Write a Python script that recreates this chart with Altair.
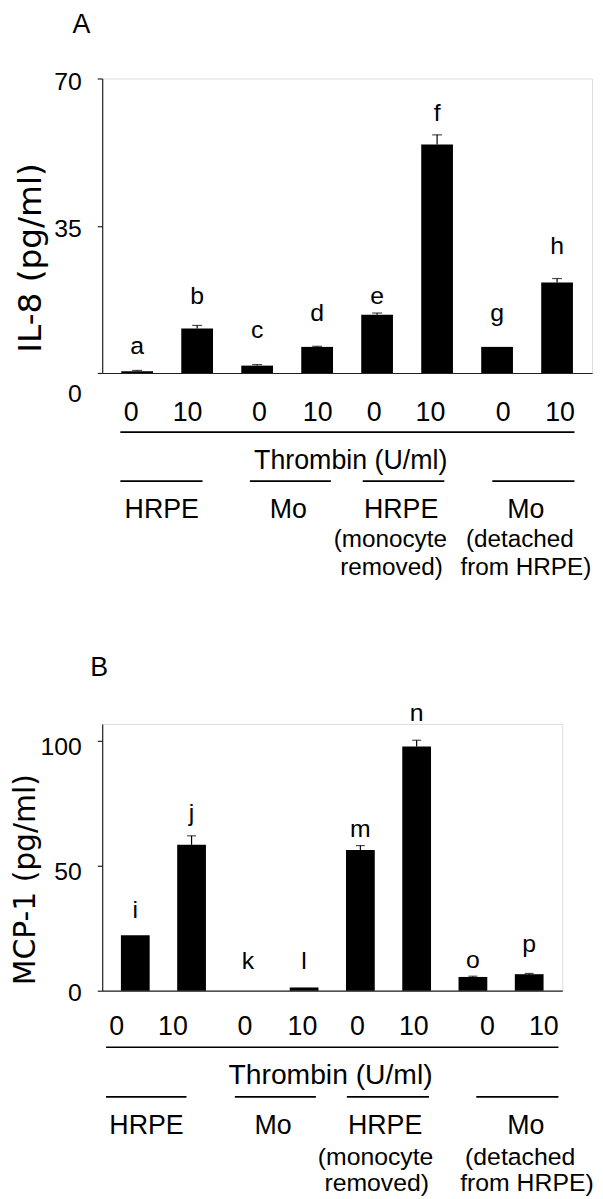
import altair as alt
import pandas as pd

FONT = "Liberation Sans"
TITLE_FONT = "DejaVu Sans"

# ---------------- data ----------------
dose_labels = ["0", "10", "0", "10", "0", "10", "0", "10"]
group_names = ["HRPE", "Mo", "HRPE", "Mo"]
sub1_labels = ["(monocyte", "(detached"]
sub2_labels = ["removed)", "from HRPE)"]

# Panel A: IL-8
a_letters = ["a", "b", "c", "d", "e", "f", "g", "h"]
a_values = [0.4, 10.6, 1.75, 6.2, 13.85, 54.3, 6.2, 21.5]
a_errors = [0.2, 0.7, 0.25, 0.15, 0.4, 2.3, 0.0, 0.95]
a_letter_y = [4.5, 16.5, 8.35, 12.4, 16.5, 59.8, 12.4, 28.3]
a_dose_pos = [-0.10, 0.84, 2.04, 3.01, 3.95, 4.89, 6.10, 7.05]
a_line = [-0.28, 7.29]
a_thrombin_pos = [3.56]
a_group_start = [-0.28, 1.88, 3.76, 5.92]
a_group_end = [1.09, 3.23, 5.12, 7.29]
a_group_pos = [0.41, 2.52, 4.40, 6.48]
a_sub1_pos = [4.22, 6.38]
a_sub2_pos = [4.24, 6.48]

# Panel B: MCP-1
b_letters = ["i", "j", "k", "l", "m", "n", "o", "p"]
b_values = [22.2, 58.3, 0.0, 1.3, 56.2, 97.6, 5.5, 6.6]
b_errors = [0.0, 3.6, 0.0, 0.0, 1.8, 2.5, 0.3, 0.3]
b_letter_y = [29.0, 68.0, 8.8, 8.8, 61.6, 107.9, 9.2, 15.6]
b_dose_pos = [-0.33, 0.67, 1.95, 2.97, 3.95, 4.95, 6.26, 7.26]
b_line = [-0.52, 7.52]
b_thrombin_pos = [3.47]
b_group_start = [-0.52, 1.77, 3.76, 6.06]
b_group_end = [0.91, 3.21, 5.22, 7.52]
b_group_pos = [0.20, 2.45, 4.44, 6.94]
b_sub1_pos = [4.27, 6.84]
b_sub2_pos = [4.29, 6.96]


def panel(tag, tag_x, tag_y, tag_size, ytitle, ytitle_x, ytitle_y, ytitle_size,
          letters, values, errors, letter_y, dose_pos, line, thr_pos,
          g_start, g_end, g_pos, s1_pos, s2_pos,
          ymax, yticks, width, height, bar_w, cap_w, tick_font,
          zero_off, other_off, rows, fonts):
    df = pd.DataFrame({
        "idx": list(range(len(values))),
        "value": values,
        "err": errors,
        "top": [v + e for v, e in zip(values, errors)],
        "letter": letters,
        "ly": letter_y,
    })
    xenc = alt.X("idx:Q",
                 scale=alt.Scale(domain=[-0.5, 7.5], nice=False, zero=False),
                 axis=alt.Axis(labels=False, ticks=False, grid=False, title=None,
                               domainColor="#222", domainWidth=1.2))
    yenc = alt.Y("value:Q",
                 scale=alt.Scale(domain=[0, ymax], nice=False, zero=True),
                 axis=alt.Axis(values=yticks, title=None, grid=False, tickSize=5,
                               tickColor="#222", domainColor="#222", domainWidth=1.2,
                               tickWidth=1.2, labelPadding=16, labelFont=FONT,
                               labelFontSize=tick_font, labelColor="black",
                               labelOffset={"condition": {"test": "datum.value === 0",
                                                          "value": zero_off},
                                            "value": other_off}))
    bars = alt.Chart(df).mark_bar(color="black", size=bar_w).encode(x=xenc, y=yenc)
    edf = df[df["err"] > 0]
    err_rule = alt.Chart(edf).mark_rule(color="black", strokeWidth=1.2).encode(
        x="idx:Q", y="value:Q", y2="top:Q")
    err_cap = alt.Chart(edf).mark_tick(color="black", thickness=1.2, size=cap_w,
                                       orient="horizontal").encode(x="idx:Q", y="top:Q")
    let = alt.Chart(df).mark_text(font=FONT, fontSize=25, baseline="alphabetic",
                                  color="black").encode(x="idx:Q", y="ly:Q", text="letter:N")

    dose_df = pd.DataFrame({"pos": dose_pos, "label": dose_labels})
    dose = alt.Chart(dose_df).mark_text(font=FONT, fontSize=fonts[0], baseline="alphabetic",
                                        color="black").encode(
        x="pos:Q", y=alt.value(rows[0]), text="label:N")
    line_df = pd.DataFrame({"s": [line[0]], "e": [line[1]]})
    tline = alt.Chart(line_df).mark_rule(color="black", strokeWidth=1.7).encode(
        x="s:Q", x2="e:Q", y=alt.value(rows[1]))
    thr_df = pd.DataFrame({"pos": thr_pos, "label": ["Thrombin (U/ml)"]})
    thr = alt.Chart(thr_df).mark_text(font=FONT, fontSize=fonts[1], baseline="alphabetic",
                                      color="black").encode(
        x="pos:Q", y=alt.value(rows[2]), text="label:N")
    g_df = pd.DataFrame({"s": g_start, "e": g_end})
    glines = alt.Chart(g_df).mark_rule(color="black", strokeWidth=1.7).encode(
        x="s:Q", x2="e:Q", y=alt.value(rows[3]))
    gn_df = pd.DataFrame({"pos": g_pos, "label": group_names})
    gnames = alt.Chart(gn_df).mark_text(font=FONT, fontSize=fonts[2], baseline="alphabetic",
                                        color="black").encode(
        x="pos:Q", y=alt.value(rows[4]), text="label:N")
    s1_df = pd.DataFrame({"pos": s1_pos, "label": sub1_labels})
    s1 = alt.Chart(s1_df).mark_text(font=FONT, fontSize=fonts[3], baseline="alphabetic",
                                    color="black").encode(
        x="pos:Q", y=alt.value(rows[5]), text="label:N")
    s2_df = pd.DataFrame({"pos": s2_pos, "label": sub2_labels})
    s2 = alt.Chart(s2_df).mark_text(font=FONT, fontSize=fonts[3], baseline="alphabetic",
                                    color="black").encode(
        x="pos:Q", y=alt.value(rows[6]), text="label:N")

    tag_df = pd.DataFrame({"t": [tag]})
    tagm = alt.Chart(tag_df).mark_text(font=FONT, fontSize=tag_size, baseline="alphabetic",
                                       color="black").encode(
        x=alt.value(tag_x), y=alt.value(tag_y), text="t:N")
    yt_df = pd.DataFrame({"t": [ytitle]})
    ytm = alt.Chart(yt_df).mark_text(font=TITLE_FONT, fontSize=ytitle_size, angle=270,
                                     baseline="middle", align="center",
                                     color="black").encode(
        x=alt.value(ytitle_x), y=alt.value(ytitle_y), text="t:N")

    return alt.layer(bars, err_rule, err_cap, let, dose, tline, thr, glines,
                     gnames, s1, s2, tagm, ytm).properties(width=width, height=height)


pa = panel("A", -21, -46, 27, "IL-8 (pg/ml)", -72, 181, 33,
           a_letters, a_values, a_errors, a_letter_y, a_dose_pos, a_line, a_thrombin_pos,
           a_group_start, a_group_end, a_group_pos, a_sub1_pos, a_sub2_pos,
           70, [0, 35, 70], 494, 297, 32, 10, 25, 21, 3,
           [345.3, 356.7, 394.3, 406, 443.7, 472.7, 501], [27, 27, 27, 24.5])

pb = panel("B", -3, -48, 27, "MCP-1 (pg/ml)", -77, 157, 30,
           b_letters, b_values, b_errors, b_letter_y, b_dose_pos, b_line, b_thrombin_pos,
           b_group_start, b_group_end, b_group_pos, b_sub1_pos, b_sub2_pos,
           106.6, [0, 50, 100], 464, 269, 29, 9, 25, 2, 6,
           [313.3, 326, 362.6, 376, 413.3, 444.3, 471], [27, 28.5, 27, 25])

chart = alt.vconcat(pa, pb, spacing=74).properties(
    padding={"left": 2, "top": -3, "right": 0, "bottom": 0}
).configure_view(stroke=None).configure(background="white")

chart.save("out.html", embed_options={"renderer": "svg", "actions": False})
